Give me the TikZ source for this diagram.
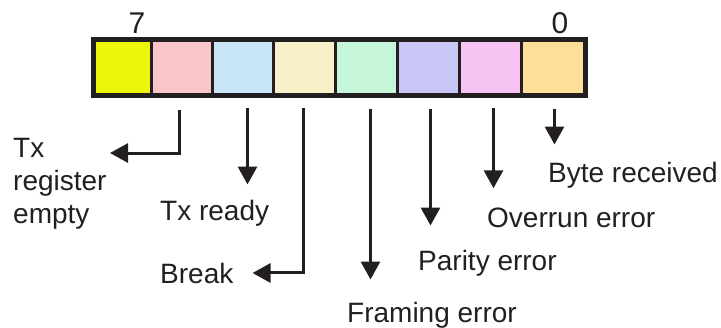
\documentclass[tikz,border=0pt]{standalone}
\usepackage{fontspec}
\setmainfont{Liberation Sans}
\usetikzlibrary{arrows.meta,calc}
\definecolor{ink}{HTML}{231F20}
\definecolor{bitA}{HTML}{EDF50A}
\definecolor{bitB}{HTML}{F9C5CB}
\definecolor{bitC}{HTML}{C8E6F8}
\definecolor{bitD}{HTML}{F8F0C8}
\definecolor{bitE}{HTML}{C5F6DA}
\definecolor{bitF}{HTML}{C9C5F5}
\definecolor{bitG}{HTML}{F7C3F3}
\definecolor{bitH}{HTML}{FEDF9A}
\begin{document}
\begin{tikzpicture}[x=1pt,y=-1pt,
  cell/.style={draw=ink,line width=3pt,minimum height=54pt,inner sep=0pt,anchor=north west},
  lbl/.style={text=ink,inner sep=0pt,font=\fontsize{28}{33}\selectfont},
  arr/.style={draw=ink,line width=3pt,-{Triangle[length=18pt,width=19pt]}}]
\useasboundingbox (0,0) rectangle (721,327);

% register cells, bit 7 on the left
\node[cell,fill=bitA,minimum width=57pt] (b7) at (93,39) {};
\node[cell,fill=bitB,minimum width=61pt] (b6) at (150,39) {};
\node[cell,fill=bitC,minimum width=61pt] (b5) at (211,39) {};
\node[cell,fill=bitD,minimum width=62pt] (b4) at (272,39) {};
\node[cell,fill=bitE,minimum width=62pt] (b3) at (334,39) {};
\node[cell,fill=bitF,minimum width=62pt] (b2) at (396,39) {};
\node[cell,fill=bitG,minimum width=62pt] (b1) at (458,39) {};
\node[cell,fill=bitH,minimum width=63pt] (b0) at (520,39) {};
\draw[ink,line width=4pt] (b7.north west) rectangle (b0.south east);

% bit numbers
\node[lbl,anchor=base,font=\fontsize{30}{33}\selectfont] (d7) at (137,33) {7};
\node[lbl,anchor=base,font=\fontsize{30}{33}\selectfont] (d0) at (560,33) {0};

% labels
\node[lbl,anchor=base west,align=left] (tre) at (13,223) {Tx\\register\\empty};
\node[lbl,anchor=base west] (txr) at (160,220) {Tx ready};
\node[lbl,anchor=base west] (brk) at (160,283) {Break};
\node[lbl,anchor=base west] (fre) at (347,322) {Framing error};
\node[lbl,anchor=base west] (par) at (418,270) {Parity error};
\node[lbl,anchor=base west] (ovr) at (487,227) {Overrun error};
\node[lbl,anchor=base west] (byt) at (548,182) {Byte received};

% arrow start points below each bit
\coordinate (s6) at ($(b6.south)+(-2.5,14)$);
\coordinate (s5) at ($(b5.south)+(4.5,12)$);
\coordinate (s4) at ($(b4.south)+(-1,12)$);
\coordinate (s3) at ($(b3.south)+(4,13)$);
\coordinate (s2) at ($(b2.south)+(2,13)$);
\coordinate (s1) at ($(b1.south)+(3,12)$);
\coordinate (s0) at ($(b0.south)+(1.5,13)$);
\coordinate (tretip) at (110,153);

\draw[arr] (s6) |- (tretip);
\draw[arr,shorten >=15pt] (s5) -- (s5 |- txr.north);
\draw[arr,shorten >=19pt] (s4) |- (brk.east);
\draw[arr,shorten >=22pt] (s3) -- (s3 |- fre.north);
\draw[arr,shorten >=24pt] (s2) -- (s2 |- par.north);
\draw[arr,shorten >=19pt] (s1) -- (s1 |- ovr.north);
\draw[arr,shorten >=17pt] (s0) -- (s0 |- byt.north);
\end{tikzpicture}
\end{document}
